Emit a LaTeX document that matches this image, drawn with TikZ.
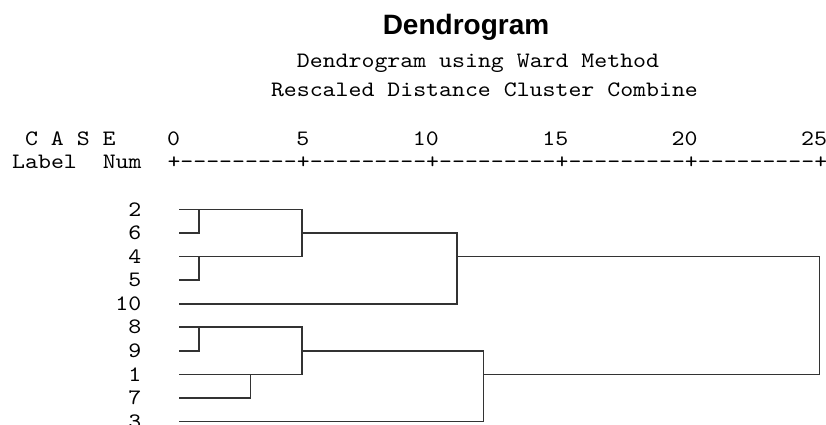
\documentclass[tikz,border=0pt]{standalone}
\usepackage{fontspec}
\newfontfamily\mono{lmmono10-regular}[Extension=.otf,FakeStretch=1.12]
\newfontfamily\titlefont{Liberation Sans}
\newcommand\dd{-\kern0pt}
\newcommand\rulerseg{\dd\dd\dd\dd\dd\dd\dd\dd\dd+}
\begin{document}
\begin{tikzpicture}[x=1pt,y=-1pt,
  mtxt/.style={inner sep=0pt,font=\mono\fontsize{22}{22}\selectfont,anchor=base west},
  mnum/.style={inner sep=0pt,font=\mono\fontsize{22}{22}\selectfont,anchor=base east},
  leaflab/.style={inner sep=0pt,font=\mono\fontsize{22}{22}\selectfont,anchor=east},
  ttl/.style={inner sep=0pt,font=\titlefont\bfseries\fontsize{28}{28}\selectfont,anchor=base},
  link/.style={draw=black!80,line width=1.6pt,line cap=rect}]
\fill[white] (0,0) rectangle (826,425);
\useasboundingbox (0,0) rectangle (826,425);
% titles
\node[ttl] (title) at (466,35) {Dendrogram};
\node[mtxt] (sub1) at (296.7,68) {Dendrogram using Ward Method};
\node[mtxt] (sub2) at (270.8,96.5) {Rescaled Distance Cluster Combine};
% header
\node[mtxt] (case) at (24.9,145) {C A S E};
\node[mnum] (t0) at (180.2,145) {0};
\node[mnum] (t5) at (309.6,145) {5};
\node[mnum] (t10) at (439.0,145) {10};
\node[mnum] (t15) at (568.4,145) {15};
\node[mnum] (t20) at (697.8,145) {20};
\node[mnum] (t25) at (827.2,145) {25};
\node[mtxt] (label) at (12,168) {Label};
\node[mtxt] (num) at (102.6,168) {Num};
\node[mtxt] (ruler) at (167.3,168) {+\rulerseg\rulerseg\rulerseg\rulerseg\rulerseg};
% leaf labels and leaf ends
\foreach \lab/\yy in {2/209.5,6/233.05,4/256.6,5/280.15,10/303.7,8/327.25,9/350.8,1/374.35,7/397.9,3/421.45}{
  \node[leaflab] (n\lab) at (141.4,\yy) {\lab};
  \coordinate (l\lab) at (180,\yy);
}
% merge points
\coordinate (m26) at (198.7,209.5);
\coordinate (m45) at (198.7,256.6);
\coordinate (mA) at (302,233.05);
\coordinate (mB) at (457,256.6);
\coordinate (m89) at (198.7,327.25);
\coordinate (m17) at (250.3,374.35);
\coordinate (mC) at (302,350.8);
\coordinate (mD) at (483.3,374.35);
\coordinate (root) at (819.3,256.6);
% links
\draw[link] (l2) -| (m26);
\draw[link] (l6) -| (m26);
\draw[link] (l4) -| (m45);
\draw[link] (l5) -| (m45);
\draw[link] (m26) -| (mA);
\draw[link] (m45) -| (mA);
\draw[link] (mA) -| (mB);
\draw[link] (l10) -| (mB);
\draw[link] (l8) -| (m89);
\draw[link] (l9) -| (m89);
\draw[link] (l1) -| (m17);
\draw[link] (l7) -| (m17);
\draw[link] (m89) -| (mC);
\draw[link] (m17) -| (mC);
\draw[link] (mC) -| (mD);
\draw[link] (l3) -| (mD);
\draw[link] (mB) -| (root);
\draw[link] (mD) -| (root);
\end{tikzpicture}
\end{document}
